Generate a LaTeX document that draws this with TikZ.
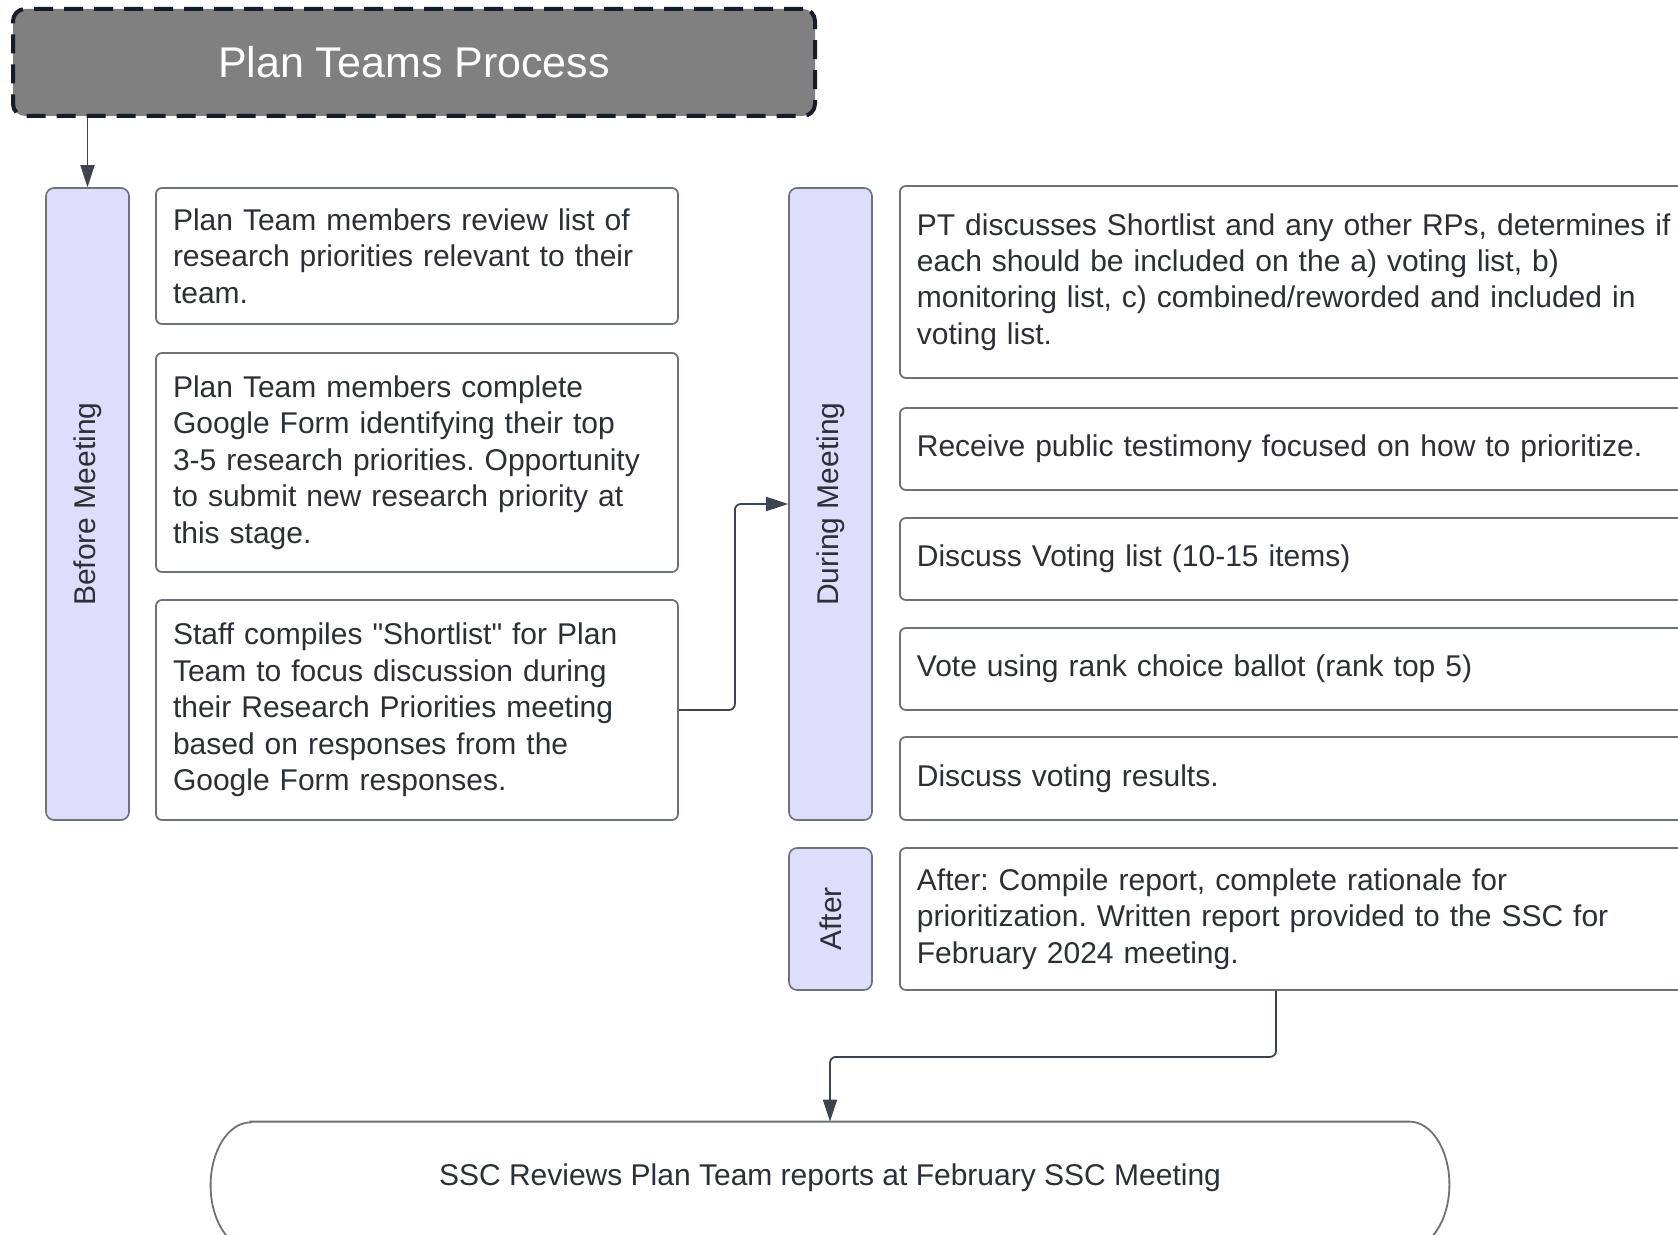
\documentclass[tikz,border=0pt]{standalone}
\usepackage{fontspec}
\setmainfont{Liberation Sans}[Ligatures=TeXOff]
\usetikzlibrary{arrows.meta}
\frenchspacing

\definecolor{ink}{HTML}{2B2F36}
\definecolor{edge}{HTML}{6C717A}
\definecolor{lavender}{HTML}{DDDDFC}
\definecolor{titlegray}{HTML}{808080}
\definecolor{navy}{HTML}{151D2B}
\definecolor{wire}{HTML}{3E444D}

\tikzset{
  bodytext/.style={font=\fontsize{15}{18.2}\selectfont, text=ink},
  titlebox/.style={fill=titlegray, draw=navy, line width=2pt, dash pattern=on 9.5pt off 5.5pt,
    rounded corners=6pt, minimum width=401pt, minimum height=53.5pt,
    font=\fontsize{21.5}{25}\selectfont, text=white},
  stepbox/.style={bodytext, draw=edge, line width=0.9pt, rounded corners=3pt, fill=white,
    align=left, inner xsep=8.5pt, inner ysep=0pt},
  leftstep/.style={stepbox, text width=244pt},
  rightstep/.style={stepbox, anchor=west, text width=399pt, minimum height=41pt},
  lane/.style={draw=edge, line width=0.8pt, fill=lavender, rounded corners=4pt, minimum width=41.5pt},
  lanetext/.style={bodytext, rotate=90},
  flow/.style={draw=wire, line width=0.9pt, rounded corners=3pt, -{Triangle[length=11pt,width=7pt]}},
}

\begin{document}
\begin{tikzpicture}[x=0.5pt, y=-0.5pt]
\useasboundingbox (0,0) rectangle (1678,1235);
\clip (0,0) rectangle (1678,1235);

% header
\node[titlebox] (title) at (414,62.5) {Plan Teams Process};

% before the meeting
\node[lane, minimum height=316pt, label={[lanetext]center:Before Meeting}] (before) at (87.5,504) {};
\node[leftstep, minimum height=68pt] (review) at (417,256)
  {Plan Team members review list of\\research priorities relevant to their\\team.};
\node[leftstep, minimum height=109.5pt] (form) at (417,462.5)
  {Plan Team members complete\\Google Form identifying their top\\3-5 research priorities. Opportunity\\to submit new research priority at\\this stage.};
\node[leftstep, minimum height=110pt] (shortlist) at (417,710)
  {Staff compiles "Shortlist" for Plan\\Team to focus discussion during\\their Research Priorities meeting\\based on responses from the\\Google Form responses.};

% during the meeting
\node[lane, minimum height=316pt, label={[lanetext]center:During Meeting}] (during) at (830.5,504) {};
\node[rightstep, minimum height=96pt] (discuss) at (899,282)
  {PT discusses Shortlist and any other RPs, determines if\\each should be included on the a) voting list, b)\\monitoring list, c) combined/reworded and included in\\voting list.\vphantom{g}};
\node[rightstep] (testimony) at (899,449) {Receive public testimony focused on how to prioritize.};
\node[rightstep] (votelist) at (899,559) {Discuss Voting list (10-15 items)};
\node[rightstep] (ballot) at (899,669) {Vote using rank choice ballot (rank top 5)};
\node[rightstep, minimum height=41.5pt] (results) at (899,778.5) {Discuss voting results.};

% after
\node[lane, minimum height=71pt, label={[lanetext]center:After}] (after) at (830.5,919) {};
\node[rightstep, minimum height=71pt] (report) at (899,919)
  {After: Compile report, complete rationale for\\prioritization. Written report provided to the SSC for\\February 2024 meeting.};

% SSC
\node[bodytext, minimum width=579pt, minimum height=63pt, text depth=10pt] (ssc) at (830,1185)
  {SSC Reviews Plan Team reports at February SSC Meeting};
\draw[edge, line width=0.9pt] (ssc.north west) -- (ssc.north east)
  arc[start angle=90, end angle=-90, x radius=20pt, y radius=31.5pt] -- (ssc.south west)
  arc[start angle=270, end angle=90, x radius=20pt, y radius=31.5pt] -- cycle;

% connectors
\draw[flow] (title.south -| before.north) -- (before.north);
\draw[flow] (shortlist.east) -- ++(56,0) |- (during.west);
\draw[flow] (1276,0 |- report.south) -- ++(0,66) -| (ssc.north);
\end{tikzpicture}
\end{document}
